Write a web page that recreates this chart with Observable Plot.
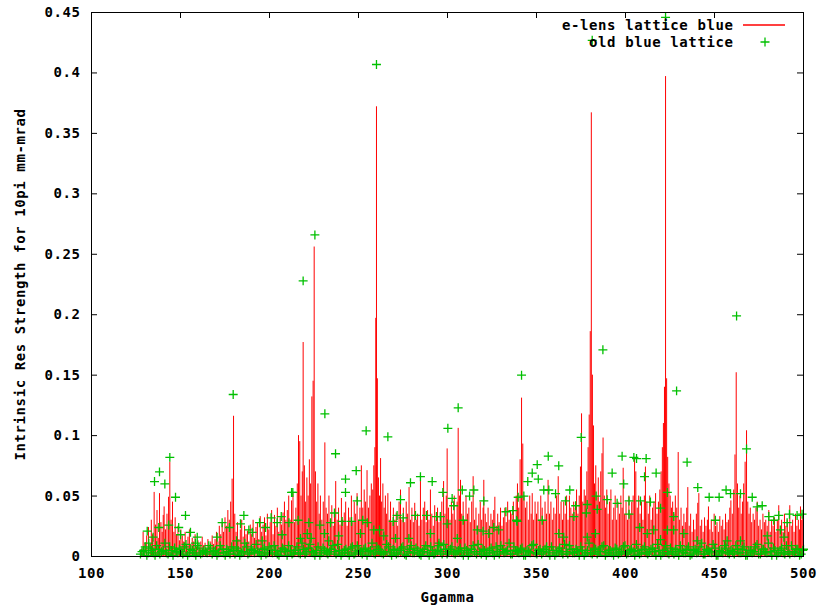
<!DOCTYPE html>
<html><head><meta charset="utf-8">
<script src="https://cdn.jsdelivr.net/npm/d3@7"></script>
<script src="https://cdn.jsdelivr.net/npm/@observablehq/plot@0.6"></script>
<style>body{margin:0;background:#fff}svg{display:block}</style>
</head><body><div id="chart"></div>
<script>
const xTicks = [100,150,200,250,300,350,400,450,500];
const yTicks = [0,0.05,0.1,0.15,0.2,0.25,0.3,0.35,0.4,0.45];
const xLabel = "Ggamma";
const yLabel = "Intrinsic Res Strength for 10pi mm-mrad";
const seriesNames = ["e-lens lattice blue","old blue lattice"];

// e-lens lattice blue: [Ggamma, strength]
const eLensLattice = [
[128,0.006],[129,0.02],[130,0.011],[131,0.017],[132,0.024],[133,0.01],[133.6,0.03],[134.3,0.018],[135.2,0.053],[136,0.026],[136.8,0.038],[137.5,0.015],[138.2,0.052],[139,0.028],[139.7,0.02],[140.3,0.034],[140.8,0.041],[141.6,0.022],[142.4,0.035],[143.3,0.049],[144,0.078],[144.7,0.03],[145.5,0.045],[146.3,0.02],[147,0.032],[147.8,0.018],[148.6,0.025],[149.4,0.013],[150.2,0.022],[151,0.017],[151.8,0.012],[152.6,0.02],[153.4,0.01],[154.2,0.016],[155,0.022],[155.8,0.01],[156.6,0.015],[157.4,0.012],[158.2,0.018],[159,0.008],[159.8,0.013],[160.6,0.007],[161.4,0.012],[162.2,0.016],[163,0.009],[163.8,0.011],[164.6,0.006],[165.4,0.014],[166.2,0.008],[167,0.012],[167.8,0.017],[168.6,0.01],[169.4,0.014],[170.2,0.02],[171,0.012],[171.8,0.025],[172.6,0.018],[173.4,0.028],[174.2,0.02],[175,0.032],[175.8,0.025],[176.6,0.038],[177.4,0.03],[178.2,0.045],[179,0.064],[179.8,0.116],[180.5,0.035],[181.2,0.02],[182,0.028],[182.8,0.014],[183.6,0.022],[184.4,0.03],[185.2,0.016],[186,0.025],[186.8,0.018],[187.6,0.021],[188.4,0.012],[189.2,0.026],[190,0.018],[190.8,0.03],[191.6,0.015],[192.4,0.024],[193.2,0.028],[194,0.014],[194.8,0.033],[195.6,0.02],[196.4,0.026],[197.2,0.032],[198,0.017],[198.8,0.035],[199.6,0.022],[200.4,0.028],[201.2,0.038],[202,0.018],[202.8,0.034],[203.6,0.025],[204.4,0.04],[205.2,0.02],[206,0.032],[206.8,0.026],[207.6,0.036],[208.4,0.045],[209.2,0.03],[210,0.038],[210.8,0.05],[211.6,0.03],[212.4,0.046],[213.2,0.052],[214,0.028],[214.8,0.04],[215.6,0.06],[216.3,0.1],[217,0.095],[217.7,0.05],[218.4,0.07],[218.9,0.177],[219.6,0.075],[220.3,0.045],[221,0.065],[221.7,0.05],[222.4,0.08],[223.1,0.06],[223.8,0.132],[224.5,0.145],[225.1,0.256],[225.8,0.07],[226.5,0.045],[227.2,0.06],[227.9,0.035],[228.6,0.05],[229.4,0.03],[230.2,0.045],[231.1,0.094],[231.8,0.04],[232.6,0.035],[233.4,0.05],[234.2,0.03],[235,0.042],[235.8,0.025],[236.5,0.038],[237.2,0.062],[238,0.03],[238.8,0.04],[239.6,0.026],[240.4,0.048],[241.2,0.03],[242,0.036],[242.8,0.045],[243.6,0.025],[244.4,0.04],[245.2,0.032],[246,0.05],[246.8,0.028],[247.6,0.045],[248.4,0.035],[249.2,0.052],[250,0.03],[250.8,0.04],[251.6,0.075],[252.4,0.04],[253.2,0.055],[254,0.045],[254.8,0.071],[255.6,0.04],[256.4,0.05],[257.2,0.06],[258,0.055],[258.6,0.075],[259.2,0.09],[259.7,0.197],[260.1,0.372],[260.6,0.147],[261.2,0.065],[261.8,0.05],[262.4,0.081],[263,0.045],[263.7,0.06],[264.4,0.04],[265.1,0.05],[265.8,0.035],[266.5,0.052],[267.3,0.03],[268,0.045],[268.8,0.028],[269.6,0.04],[270.4,0.03],[271.2,0.036],[272,0.025],[272.8,0.045],[273.6,0.055],[274.4,0.03],[275.2,0.04],[276,0.028],[276.8,0.045],[277.6,0.035],[278.4,0.057],[279.2,0.03],[280,0.04],[280.8,0.028],[281.6,0.044],[282.4,0.03],[283.2,0.035],[284,0.025],[284.8,0.062],[285.6,0.03],[286.4,0.04],[287.2,0.045],[288,0.028],[288.8,0.038],[289.6,0.03],[290.4,0.055],[291.2,0.035],[292,0.025],[292.8,0.042],[293.6,0.03],[294.4,0.04],[295.2,0.028],[296,0.035],[296.8,0.045],[297.8,0.062],[298.6,0.035],[299.3,0.05],[299.8,0.089],[300.6,0.04],[301.4,0.03],[302.2,0.045],[303,0.035],[303.8,0.05],[304.6,0.03],[305.4,0.045],[306,0.106],[306.7,0.05],[307.3,0.063],[308,0.035],[308.8,0.045],[309.6,0.03],[310.4,0.05],[311.2,0.035],[312,0.04],[312.8,0.028],[313.6,0.045],[314.4,0.066],[315.2,0.03],[316,0.04],[316.8,0.025],[317.6,0.035],[318.4,0.045],[319.2,0.03],[320,0.04],[320.4,0.063],[321.2,0.035],[322,0.028],[322.8,0.04],[323.6,0.025],[324.4,0.035],[325.2,0.03],[326,0.038],[326.6,0.049],[327.4,0.025],[328.2,0.035],[329,0.028],[329.8,0.04],[330.6,0.025],[331.4,0.032],[332.2,0.04],[333,0.028],[333.8,0.045],[334.6,0.03],[335.4,0.038],[336.2,0.035],[337,0.045],[337.8,0.03],[338.6,0.05],[339.3,0.06],[340,0.04],[340.8,0.08],[341.6,0.131],[342.3,0.093],[343,0.05],[343.8,0.04],[344.6,0.045],[345.4,0.03],[346.2,0.05],[347,0.035],[347.6,0.052],[348.4,0.03],[349.2,0.045],[350,0.035],[350.8,0.045],[351.6,0.03],[352.4,0.05],[353.2,0.04],[354,0.03],[354.8,0.045],[355.6,0.035],[356.5,0.063],[357.3,0.035],[358.1,0.045],[358.9,0.03],[359.7,0.04],[360.5,0.035],[361.3,0.05],[362.2,0.066],[363,0.035],[363.8,0.045],[364.6,0.03],[365.3,0.045],[366.1,0.035],[366.9,0.05],[367.7,0.03],[368.5,0.05],[369.3,0.04],[370.1,0.035],[370.9,0.045],[371.7,0.04],[372.5,0.055],[373.3,0.035],[374,0.05],[374.7,0.074],[375.3,0.118],[376,0.045],[376.8,0.055],[377.6,0.05],[378.3,0.07],[379,0.09],[379.6,0.117],[380.2,0.186],[380.8,0.367],[381.4,0.15],[382,0.108],[382.6,0.06],[383.3,0.075],[384,0.05],[384.7,0.065],[385.4,0.045],[386.1,0.07],[386.8,0.085],[387.4,0.098],[388.1,0.05],[388.8,0.04],[389.5,0.055],[390.2,0.035],[391,0.045],[391.8,0.055],[392.6,0.03],[393.4,0.04],[394.2,0.05],[395,0.03],[395.8,0.045],[396.6,0.035],[397.4,0.05],[398.1,0.04],[398.7,0.073],[399.5,0.035],[400.3,0.045],[401.1,0.03],[401.9,0.05],[402.7,0.035],[403.5,0.045],[404.3,0.05],[405.1,0.081],[405.8,0.07],[406.6,0.04],[407.4,0.05],[408.2,0.035],[409,0.045],[409.8,0.03],[410.6,0.05],[411.2,0.074],[412,0.045],[412.8,0.035],[413.6,0.05],[414.4,0.03],[415.2,0.04],[416,0.045],[416.9,0.052],[417.7,0.035],[418.5,0.045],[419.3,0.055],[420,0.07],[420.7,0.09],[421.3,0.11],[421.9,0.14],[422.5,0.397],[423.1,0.147],[423.7,0.082],[424.4,0.06],[425.1,0.05],[425.8,0.04],[426.5,0.045],[427.2,0.035],[428,0.05],[428.8,0.04],[429.6,0.086],[430.4,0.03],[431.2,0.04],[432,0.025],[432.8,0.035],[433.6,0.028],[434.4,0.04],[435,0.057],[435.8,0.025],[436.6,0.035],[437.4,0.02],[438.2,0.03],[439,0.022],[439.8,0.035],[440.6,0.044],[441.2,0.052],[442,0.025],[442.8,0.03],[443.6,0.02],[444.4,0.032],[445.2,0.025],[446,0.03],[446.6,0.041],[447.4,0.022],[448.2,0.03],[449,0.02],[449.8,0.035],[450.6,0.025],[451.4,0.028],[452.2,0.02],[453,0.033],[453.8,0.025],[454.6,0.03],[455.4,0.022],[456.2,0.035],[457,0.028],[457.8,0.03],[458.6,0.04],[459.2,0.046],[460,0.035],[460.8,0.055],[461.5,0.084],[462.2,0.152],[462.9,0.06],[463.6,0.04],[464.3,0.05],[465,0.035],[465.7,0.045],[466.4,0.06],[467.2,0.078],[468,0.104],[468.7,0.045],[469.4,0.035],[470.1,0.04],[470.9,0.028],[471.7,0.035],[472.5,0.03],[473.3,0.04],[474,0.045],[474.8,0.025],[475.6,0.03],[476.4,0.022],[477.2,0.035],[478,0.028],[478.8,0.03],[479.6,0.025],[480.5,0.038],[481.3,0.02],[482.1,0.03],[482.9,0.025],[483.7,0.032],[484.5,0.02],[485.3,0.03],[486.1,0.042],[486.9,0.022],[487.7,0.03],[488.5,0.02],[489.3,0.035],[490.1,0.025],[490.9,0.03],[491.6,0.02],[492.3,0.042],[493.1,0.025],[493.9,0.03],[494.7,0.02],[495.5,0.035],[496.3,0.025],[497.1,0.03],[497.8,0.022],[498.3,0.041],[499,0.03],[499.6,0.035]
];

// old blue lattice, scattered points above the baseline band
const oldLatticeUpper = [
[260.1,0.407],[422.5,0.446],[381.3,0.427],[225.5,0.266],[218.9,0.228],[387.3,0.171],[462.4,0.199],[179.6,0.134],[341.6,0.150],[428.7,0.137],[306.0,0.123],[300.2,0.106],[231.1,0.118],[254.3,0.104],[266.5,0.099],[237.1,0.085],[242.7,0.064],[242.7,0.053],[248.7,0.071],[249.3,0.046],[212.4,0.053],[279.2,0.061],[284.8,0.066],[291.4,0.062],[297.4,0.053],[273.6,0.047],
[302.6,0.048],[303.5,0.042],[308.3,0.055],[312.4,0.050],[314.8,0.055],[320.4,0.046],[308.8,0.030],[299.8,0.027],[296,0.033],[332.8,0.037],[336.7,0.038],[338.8,0.030],[339.7,0.049],[342.9,0.050],[345.1,0.062],[347.6,0.069],[350.4,0.076],[351,0.064],[356.6,0.083],[354.1,0.055],[356.9,0.055],[360.7,0.052],[362.5,0.075],[366.3,0.046],[368.7,0.055],[375.1,0.0985],[372,0.042],[378.5,0.043],[378,0.036],[383.5,0.050],[384.1,0.039],[389.7,0.047],[392.5,0.069],[395.3,0.044],[398.1,0.083],[399,0.060],[402,0.046],[402,0.035],[404.7,0.082],[406.2,0.081],[411.6,0.081],[410.7,0.066],[408.4,0.046],[414,0.045],[417.2,0.069],[419.7,0.040],[423.5,0.053],[408,0.024],[427.1,0.033],[434.6,0.078],[440.6,0.057],[447,0.049],[452.6,0.049],[456.5,0.055],[459,0.052],[464.6,0.052],[468,0.089],[471.2,0.049],[474,0.041],[476.8,0.042],[480.5,0.033],[483.3,0.030],[486.1,0.034],[490.8,0.028],[492.1,0.035],[496.4,0.034],[499.2,0.035],[450.5,0.030],[440.3,0.013],[457.1,0.013],[464.6,0.013],[479.6,0.017],[487,0.022],[489,0.016],[427.1,0.022],[432.8,0.019],[419.7,0.014],[423.5,0.022],[412.2,0.019],[415.9,0.022],[383.1,0.019],[378.5,0.016],[371,0.033],[362.5,0.019],[365.3,0.016],[339.1,0.029],[326,0.024],[328.8,0.022],[316.7,0.022],[320,0.021],[323.2,0.019],[305.5,0.015],[353.2,0.030],[500,0.006],
[144,0.082],[138.2,0.070],[135.4,0.062],[141.2,0.060],[147.2,0.049],[152.8,0.034],[131.3,0.021],[134.6,0.016],[132.2,0.011],[137.8,0.024],[143.4,0.026],[149,0.024],[150,0.018],[155.6,0.020],[159.4,0.016],[158.4,0.011],[170.6,0.016],[173.4,0.028],[177.5,0.024],[183.7,0.027],[185.6,0.034],[181.5,0.013],[188.4,0.022],[190.3,0.020],[194.4,0.028],[197.8,0.024],[195.9,0.013],[200.9,0.032],[204.3,0.028],[206.6,0.033],[207.1,0.018],[210.9,0.028],[213.1,0.053],[216.1,0.030],[217.4,0.015],[222.1,0.028],[223.4,0.015],[221.2,0.019],[228.3,0.026],[230.9,0.019],[234.3,0.028],[233.3,0.013],[236.5,0.036],[238.9,0.017],[240.8,0.029],[246.1,0.029],[252.4,0.030],[254.9,0.028],[251.1,0.019],[258.6,0.022],[261.8,0.022],[264.2,0.017],[269.5,0.029],[271.7,0.034],[275.1,0.032],[270.8,0.015],[278.3,0.015],[282,0.034],[288.2,0.034],[290.4,0.019],[293.8,0.033],[295.1,0.009]
];

// old blue lattice, dense band near zero
const oldLatticeLow = [
[127.5,0.002],[129.3,0.005],[131.1,0.001],[132.9,0.007],[134.8,0.003],[136.6,0.009],[138.4,0.002],[140.3,0.005],[142.1,0.003],[143.9,0.008],[145.8,0.001],[147.6,0.004],[149.4,0.006],[151.3,0.002],[153.1,0.010],[154.9,0.003],[156.8,0.005],[158.6,0.001],[160.4,0.007],[162.3,0.003],[164.1,0.004],[165.9,0.009],[167.8,0.002],[169.6,0.005],[171.4,0.003],[173.3,0.006],[175.1,0.001],[176.9,0.004],[178.8,0.008],[180.6,0.002],[182.4,0.005],[184.3,0.003],[186.1,0.011],[187.9,0.002],[189.8,0.006],[191.6,0.003],[193.4,0.004],[195.3,0.001],[197.1,0.007],[198.9,0.003],[200.8,0.005],[202.6,0.009],[204.4,0.002],[206.3,0.004],[208.1,0.006],[209.9,0.001],[211.8,0.005],[213.6,0.003],[215.4,0.008],[217.3,0.002],[219.1,0.006],[220.9,0.004],[222.8,0.010],[224.6,0.003],[226.4,0.005],[228.3,0.001],[230.1,0.007],[231.9,0.003],[233.8,0.004],[235.6,0.009],[237.4,0.002],[239.3,0.005],[241.1,0.003],[242.9,0.006],[244.8,0.001],[246.6,0.008],[248.4,0.003],[250.3,0.005],[252.1,0.002],[253.9,0.007],[255.8,0.004],[257.6,0.011],[259.4,0.002],[261.3,0.006],[263.1,0.003],[264.9,0.004],[266.8,0.008],[268.6,0.001],[270.4,0.005],[272.3,0.003],[274.1,0.007],[275.9,0.002],[277.8,0.004],[279.6,0.009],[281.4,0.003],[283.3,0.005],[285.1,0.001],[286.9,0.006],[288.8,0.003],[290.6,0.008],[292.4,0.002],[294.3,0.005],[296.1,0.004],[297.9,0.010],[299.8,0.002],[301.6,0.006],[303.4,0.003],[305.3,0.004],[307.1,0.007],[308.9,0.001],[310.8,0.005],[312.6,0.003],[314.4,0.009],[316.3,0.002],[318.1,0.004],[319.9,0.006],[321.8,0.001],[323.6,0.005],[325.4,0.003],[327.3,0.008],[329.1,0.002],[330.9,0.006],[332.8,0.004],[334.6,0.011],[336.4,0.002],[338.3,0.005],[340.1,0.003],[341.9,0.007],[343.8,0.001],[345.6,0.004],[347.4,0.009],[349.3,0.003],[351.1,0.005],[352.9,0.002],[354.8,0.006],[356.6,0.003],[358.4,0.008],[360.3,0.001],[362.1,0.005],[363.9,0.004],[365.8,0.010],[367.6,0.002],[369.4,0.006],[371.3,0.003],[373.1,0.004],[374.9,0.008],[376.8,0.001],[378.6,0.005],[380.4,0.003],[382.3,0.007],[384.1,0.002],[385.9,0.004],[387.8,0.009],[389.6,0.003],[391.4,0.005],[393.3,0.001],[395.1,0.006],[396.9,0.003],[398.8,0.008],[400.6,0.002],[402.4,0.005],[404.3,0.004],[406.1,0.010],[407.9,0.002],[409.8,0.006],[411.6,0.003],[413.4,0.004],[415.3,0.007],[417.1,0.001],[418.9,0.005],[420.8,0.003],[422.6,0.009],[424.4,0.002],[426.3,0.004],[428.1,0.006],[429.9,0.001],[431.8,0.005],[433.6,0.003],[435.4,0.008],[437.3,0.002],[439.1,0.006],[440.9,0.004],[442.8,0.011],[444.6,0.002],[446.4,0.005],[448.3,0.003],[450.1,0.007],[451.9,0.001],[453.8,0.004],[455.6,0.009],[457.4,0.003],[459.3,0.005],[461.1,0.002],[462.9,0.006],[464.8,0.003],[466.6,0.008],[468.4,0.001],[470.3,0.005],[472.1,0.004],[473.9,0.010],[475.8,0.002],[477.6,0.006],[479.4,0.003],[481.3,0.004],[483.1,0.007],[484.9,0.001],[486.8,0.005],[488.6,0.003],[490.4,0.009],[492.3,0.002],[494.1,0.004],[495.9,0.006],[497.8,0.001],[499.6,0.005],
[128.4,0.004],[130.2,0.008],[132,0.003],[133.8,0.005],[135.7,0.001],[137.5,0.006],[139.3,0.004],[141.2,0.011],[143,0.002],[144.8,0.005],[146.7,0.007],[148.5,0.003],[150.3,0.004],[152.2,0.008],[154,0.001],[155.8,0.006],[157.7,0.003],[159.5,0.009],[161.3,0.002],[163.2,0.005],[165,0.003],[166.8,0.007],[168.7,0.004],[170.5,0.001],[172.3,0.009],[174.2,0.003],[176,0.006],[177.8,0.002],[179.7,0.005],[181.5,0.007],[183.3,0.001],[185.2,0.004],[187,0.008],[188.8,0.003],[190.7,0.005],[192.5,0.010],[194.3,0.003],[196.2,0.006],[198,0.002],[199.8,0.008],[201.7,0.003],[203.5,0.005],[205.3,0.001],[207.2,0.007],[209,0.004],[210.8,0.009],[212.7,0.002],[214.5,0.005],[216.3,0.003],[218.2,0.011],[220,0.002],[221.8,0.007],[223.7,0.004],[225.5,0.001],[227.3,0.008],[229.2,0.003],[231,0.005],[232.8,0.002],[234.7,0.006],[236.5,0.004],[238.3,0.010],[240.2,0.001],[242,0.005],[243.8,0.003],[245.7,0.007],[247.5,0.002],[249.3,0.009],[251.2,0.004],[253,0.006],[254.8,0.001],[256.7,0.005],[258.5,0.003],[260.3,0.008],[262.2,0.004],[264,0.002],[265.8,0.010],[267.7,0.003],[269.5,0.006],[271.3,0.002],[273.2,0.005],[275,0.008],[276.8,0.001],[278.7,0.006],[280.5,0.003],[282.3,0.007],[284.2,0.002],[286,0.004],[287.8,0.009],[289.7,0.001],[291.5,0.005],[293.3,0.003],[295.2,0.011],[297,0.002],[298.8,0.006],[300.7,0.004],[302.5,0.008],[304.3,0.002],[306.2,0.005],[308,0.003],[309.8,0.007],[311.7,0.001],[313.5,0.006],[315.3,0.004],[317.2,0.010],[319,0.002],[320.8,0.005],[322.7,0.003],[324.5,0.007],[326.3,0.001],[328.2,0.004],[330,0.009],[331.8,0.003],[333.7,0.005],[335.5,0.002],[337.3,0.008],[339.2,0.004],[341,0.006],[342.8,0.001],[344.7,0.005],[346.5,0.003],[348.3,0.010],[350.2,0.002],[352,0.006],[353.8,0.004],[355.7,0.008],[357.5,0.001],[359.3,0.005],[361.2,0.003],[363,0.007],[364.8,0.002],[366.7,0.004],[368.5,0.009],[370.3,0.003],[372.2,0.006],[374,0.001],[375.8,0.005],[377.7,0.003],[379.5,0.011],[381.3,0.002],[383.2,0.006],[385,0.004],[386.8,0.008],[388.7,0.001],[390.5,0.005],[392.3,0.003],[394.2,0.007],[396,0.002],[397.8,0.004],[399.7,0.009],[401.5,0.003],[403.3,0.006],[405.2,0.001],[407,0.005],[408.8,0.003],[410.7,0.008],[412.5,0.002],[414.3,0.006],[416.2,0.004],[418,0.010],[419.8,0.001],[421.7,0.005],[423.5,0.003],[425.3,0.007],[427.2,0.002],[429,0.004],[430.8,0.009],[432.7,0.003],[434.5,0.006],[436.3,0.001],[438.2,0.005],[440,0.003],[441.8,0.008],[443.7,0.002],[445.5,0.006],[447.3,0.004],[449.2,0.010],[451,0.001],[452.8,0.005],[454.7,0.003],[456.5,0.007],[458.3,0.002],[460.2,0.004],[462,0.009],[463.8,0.003],[465.7,0.006],[467.5,0.001],[469.3,0.005],[471.2,0.003],[473,0.008],[474.8,0.002],[476.7,0.006],[478.5,0.004],[480.3,0.011],[482.2,0.001],[484,0.005],[485.8,0.003],[487.7,0.007],[489.5,0.002],[491.3,0.004],[493.2,0.009],[495,0.003],[496.8,0.006],[498.7,0.002]
];

const W = 821, H = 609, mL = 91, mR = 18, mT = 12, mB = 53;
const pw = W - mL - mR, ph = H - mT - mB;
const RED = "#ff0000", GREEN = "#00c000";
const oldAll = oldLatticeLow.concat(oldLatticeUpper);

const chart = Plot.plot({
  width: W, height: H,
  marginLeft: mL, marginRight: mR, marginTop: mT, marginBottom: mB,
  style: {fontFamily: "'DejaVu Sans Mono', monospace", fontSize: "14px", fontWeight: "bold", background: "#fff", color: "#000", letterSpacing: "0.6px"},
  x: {domain: [100, 500]},
  y: {domain: [0, 0.45]},
  marks: [
    Plot.ruleX(eLensLattice, {x: d => d[0], y1: 0, y2: d => d[1], stroke: RED, strokeWidth: 1}),
    Plot.dot(oldAll, {x: d => d[0], y: d => d[1], symbol: "plus", r: 3, stroke: GREEN, fill: "none", strokeWidth: 1.3}),
    Plot.frame({stroke: "#000", strokeWidth: 1}),
    Plot.tickX(xTicks, {x: d => d, insetTop: ph - 6, stroke: "#000"}),
    Plot.tickX(xTicks, {x: d => d, insetBottom: ph - 6, stroke: "#000"}),
    Plot.tickY(yTicks, {y: d => d, insetRight: pw - 6, stroke: "#000"}),
    Plot.tickY(yTicks, {y: d => d, insetLeft: pw - 6, stroke: "#000"}),
    Plot.axisX(xTicks, {tickSize: 0, tickPadding: 12, tickFormat: d => String(d), label: null}),
    Plot.axisY(yTicks, {tickSize: 0, tickPadding: 11, tickFormat: d => String(+d.toFixed(2)), label: null}),
    Plot.text([xLabel], {frameAnchor: "bottom", dy: 41, text: d => d, textAnchor: "middle", lineAnchor: "middle"}),
    Plot.text([yLabel], {frameAnchor: "left", dx: -71, rotate: -90, text: d => d, textAnchor: "middle", lineAnchor: "middle"}),
    Plot.text([seriesNames[0]], {frameAnchor: "top-right", dx: -70, dy: 13, text: d => d, textAnchor: "end", lineAnchor: "middle"}),
    Plot.text([seriesNames[1]], {frameAnchor: "top-right", dx: -70, dy: 30, text: d => d, textAnchor: "end", lineAnchor: "middle"})
  ]
});
document.getElementById("chart").appendChild(chart);

// legend keys
const svg = d3.select(chart);
const g = svg.append("g");
g.append("line").attr("x1", W - mR - 60).attr("x2", W - mR - 18).attr("y1", mT + 13).attr("y2", mT + 13).attr("stroke", RED).attr("stroke-width", 1.5);
g.append("path").attr("transform", `translate(${W - mR - 38},${mT + 30})`).attr("d", "M-4.5,0H4.5M0,-4.5V4.5").attr("stroke", GREEN).attr("stroke-width", 1.3).attr("fill", "none");
</script>
</body></html>
